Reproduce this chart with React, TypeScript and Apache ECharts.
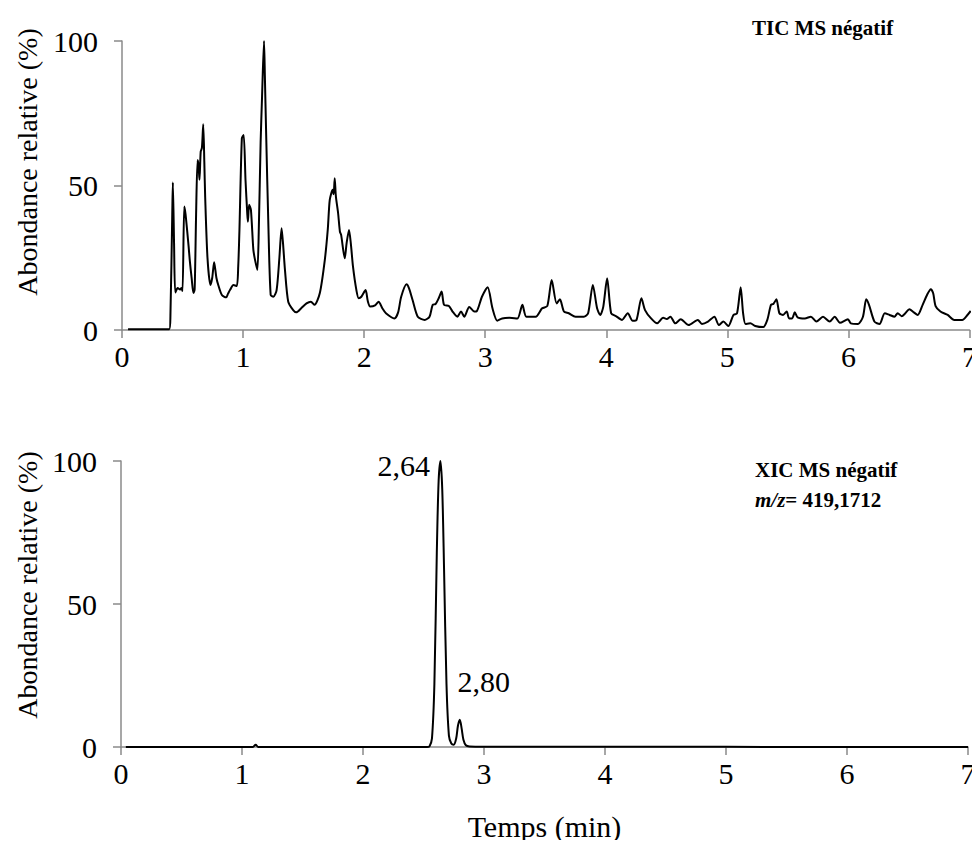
import React, { useEffect, useRef } from "react";
import * as echarts from "echarts";

// TIC MS négatif (time in min, relative abundance %)
const ticTime = [
  0.05, 0.39, 0.40, 0.415, 0.42, 0.43, 0.44, 0.46, 0.48, 0.49, 0.50, 0.514, 0.525, 0.55, 0.56, 0.575, 0.59, 0.60,
  0.612, 0.624, 0.632, 0.64, 0.65, 0.66, 0.671, 0.68, 0.687, 0.706, 0.73, 0.745, 0.761, 0.78, 0.797, 0.825, 0.86,
  0.875, 0.893, 0.92, 0.948, 0.96, 0.97, 0.99, 1.005, 1.02, 1.035, 1.04, 1.05, 1.065, 1.085, 1.10, 1.118, 1.13,
  1.145, 1.157, 1.173, 1.18, 1.19, 1.21, 1.228, 1.25, 1.277, 1.30, 1.318, 1.33, 1.346, 1.373, 1.414, 1.44, 1.48,
  1.524, 1.56, 1.59, 1.634, 1.675, 1.70, 1.716, 1.74, 1.748, 1.757, 1.765, 1.77, 1.785, 1.80, 1.81, 1.84, 1.855,
  1.875, 1.89, 1.908, 1.936, 1.955, 1.977, 2.012, 2.03, 2.05, 2.09, 2.12, 2.15, 2.18, 2.25, 2.28, 2.306, 2.35,
  2.37, 2.40, 2.443, 2.50, 2.54, 2.566, 2.59, 2.616, 2.64, 2.66, 2.70, 2.73, 2.77, 2.80, 2.827, 2.868, 2.91, 2.93,
  2.973, 3.02, 3.06, 3.10, 3.14, 3.20, 3.266, 3.307, 3.34, 3.417, 3.47, 3.513, 3.549, 3.59, 3.617, 3.65, 3.69,
  3.746, 3.815, 3.85, 3.889, 3.924, 3.95, 3.975, 4.007, 4.04, 4.08, 4.13, 4.177, 4.218, 4.25, 4.29, 4.32, 4.37,
  4.42, 4.47, 4.50, 4.53, 4.57, 4.615, 4.68, 4.756, 4.79, 4.84, 4.893, 4.93, 4.967, 5.008, 5.05, 5.08, 5.11, 5.13,
  5.15, 5.19, 5.23, 5.296, 5.33, 5.36, 5.38, 5.405, 5.43, 5.46, 5.49, 5.51, 5.535, 5.557, 5.58, 5.64, 5.69, 5.735,
  5.79, 5.845, 5.886, 5.93, 5.996, 6.02, 6.08, 6.12, 6.147, 6.17, 6.215, 6.257, 6.30, 6.34, 6.38, 6.407, 6.44,
  6.47, 6.503, 6.54, 6.572, 6.613, 6.65, 6.68, 6.70, 6.72, 6.76, 6.82, 6.874, 6.94, 6.983, 7.01,
];
const ticAbundance = [
  0.3, 0.3, 5, 40, 51, 30, 13, 14.5, 14, 14.5, 13.5, 42.7, 40, 29, 24, 18, 12.8, 14,
  40, 58.8, 57, 52, 61.7, 63, 71.2, 58, 46, 25, 15.6, 18, 23.4, 18, 15.3, 12.1, 11.3,
  12.5, 13.9, 15.6, 15.2, 22, 34.6, 66.3, 67.5, 52, 40, 37.5, 43.3, 41.5, 27.7, 24, 20.8, 35,
  65, 81, 100, 88, 69, 34.6, 12.1, 11.5, 13.8, 25, 35.2, 30, 20.8, 9.8, 6.9, 6.1, 7.5,
  9.2, 9.8, 8.7, 12.8, 24.2, 35, 45, 48.5, 47, 52.5, 47, 45, 40.4, 34, 32.9, 24.8, 30,
  34.6, 30, 21.9, 13.8, 11, 11.5, 13.8, 10, 8.1, 8.5, 9.8, 7.5, 5.8, 4, 6, 11.5, 15.8,
  14.5, 10.4, 4.6, 3.5, 4.6, 8.7, 9, 11, 13.3, 8.7, 8.3, 6.4, 4.6, 6.4, 4.6, 8, 6.4, 6.5,
  11.5, 14.8, 7.5, 3.2, 4, 4.2, 4, 8.7, 4.6, 4.6, 7.5, 8.3, 17.3, 9.2, 10.6, 6.4, 5.8,
  4.6, 4.6, 5.8, 15.6, 7.5, 5.2, 8, 17.9, 5.8, 4.8, 3.5, 5.8, 3.2, 3.5, 11, 6.9, 4,
  2.3, 4.2, 3.8, 4.6, 2.3, 3.7, 1.7, 3.5, 2.1, 2.9, 4.6, 1.7, 2.9, 1.4, 5.2, 5.8, 14.8, 5.8,
  2.1, 2.3, 1.4, 1.0, 3.5, 8.7, 9, 10.6, 5.8, 5.2, 6.4, 4, 4, 6.1, 4.4, 4, 4.6, 2.9,
  4.6, 2.9, 4.6, 2.5, 3.7, 2.3, 2.1, 4.6, 10.6, 8.7, 2.9, 2.1, 5.8, 5.2, 4.6, 5.8, 4.8,
  5.8, 7.2, 6.1, 5.2, 8.7, 12.2, 14.1, 12.7, 8.3, 6.4, 5.2, 3.5, 3.5, 5.2, 6.6,
];

// XIC MS négatif m/z = 419,1712
const xicTime = [
  0.04, 1.09, 1.113, 1.135, 2.53, 2.55, 2.57, 2.59, 2.61, 2.625, 2.64, 2.655, 2.67, 2.69, 2.71, 2.73, 2.75,
  2.77, 2.785, 2.80, 2.815, 2.83, 2.85, 2.88, 3.0, 4.0, 5.0, 6.0, 7.0,
];
const xicAbundance = [
  0, 0, 0.8, 0, 0, 0.3, 3, 22, 68, 93, 100, 90, 62, 22, 4, 1.2, 0.8,
  3, 7.5, 9.5, 6.5, 2.5, 0.6, 0.2, 0.1, 0.1, 0.05, 0, 0,
];

const peakLabels = [
  { t: 2.64, v: 100, text: "2,64" },
  { t: 2.8, v: 9.5, text: "2,80" },
];

const xTicks = ["0", "1", "2", "3", "4", "5", "6", "7"];
const yTicks = [0, 50, 100];

const SERIF = "Liberation Serif";
const AXIS_GRAY = "#8a8a8a";
const BIG = 30;

export default function App() {
  const ref = useRef<HTMLDivElement>(null);

  useEffect(() => {
    if (!ref.current) return;
    const chart = echarts.init(ref.current, undefined, { renderer: "svg" });

    const zip = (a: number[], b: number[]) => a.map((t, i) => [t, b[i]]);

    const makeX = (gridIndex: number, withName: boolean) => ({
      type: "value",
      gridIndex,
      min: 0,
      max: xTicks.length - 1,
      interval: 1,
      splitLine: { show: false },
      axisLine: { show: true, onZero: false, lineStyle: { color: AXIS_GRAY, width: 1.5 } },
      axisTick: { show: true, length: 8, lineStyle: { color: AXIS_GRAY, width: 1.5 } },
      axisLabel: {
        color: "#000",
        fontFamily: SERIF,
        fontSize: BIG,
        margin: 11,
        formatter: (v: number) => xTicks[Math.round(v)] ?? "",
      },
      name: withName ? "Temps (min)" : "",
      nameLocation: "middle",
      nameGap: 64,
      nameTextStyle: { color: "#000", fontFamily: SERIF, fontSize: BIG },
    });

    const makeY = (gridIndex: number) => ({
      type: "value",
      gridIndex,
      min: yTicks[0],
      max: yTicks[yTicks.length - 1],
      interval: 50,
      splitLine: { show: false },
      axisLine: { show: true, lineStyle: { color: AXIS_GRAY, width: 1.5 } },
      axisTick: { show: true, length: 8, lineStyle: { color: AXIS_GRAY, width: 1.5 } },
      axisLabel: { color: "#000", fontFamily: SERIF, fontSize: BIG, margin: 24 },
    });

    const yTitle = (y: number) => ({
      type: "text",
      x: 27,
      y,
      rotation: Math.PI / 2,
      style: {
        text: "Abondance relative (%)",
        fontFamily: SERIF,
        fontSize: 28,
        fill: "#000",
        textAlign: "center",
        textVerticalAlign: "middle",
      },
    });

    chart.setOption({
      animation: false,
      backgroundColor: "#fff",
      grid: [
        { left: 122, top: 41, width: 850, height: 289 },
        { left: 121, top: 461, width: 847, height: 286 },
      ],
      xAxis: [makeX(0, false), makeX(1, true)],
      yAxis: [makeY(0), makeY(1)],
      series: [
        {
          type: "line",
          xAxisIndex: 0,
          yAxisIndex: 0,
          data: zip(ticTime, ticAbundance),
          showSymbol: false,
          symbol: "none",
          smooth: 0.25,
          lineStyle: { color: "#000", width: 2 },
        },
        {
          type: "line",
          xAxisIndex: 1,
          yAxisIndex: 1,
          data: zip(xicTime, xicAbundance),
          showSymbol: false,
          symbol: "none",
          smooth: 0.3,
          lineStyle: { color: "#000", width: 2 },
          markPoint: {
            symbol: "circle",
            symbolSize: 1,
            itemStyle: { color: "rgba(0,0,0,0)" },
            label: { show: true, color: "#000", fontFamily: SERIF, fontSize: BIG },
            data: [
              {
                coord: [peakLabels[0].t, peakLabels[0].v],
                label: { formatter: peakLabels[0].text, position: "left", distance: 10, offset: [0, 4] },
              },
              {
                coord: [peakLabels[1].t, peakLabels[1].v],
                label: { formatter: peakLabels[1].text, position: "top", distance: 5, offset: [24, -18] },
              },
            ],
          },
        },
      ],
      graphic: [
        yTitle(162),
        yTitle(585),
        {
          type: "text",
          x: 752,
          y: 28,
          style: {
            text: "TIC MS négatif",
            fontFamily: SERIF,
            fontWeight: "bold",
            fontSize: 21,
            fill: "#000",
            textAlign: "left",
            textVerticalAlign: "middle",
          },
        },
        {
          type: "text",
          x: 755,
          y: 470,
          style: {
            text: "XIC MS négatif",
            fontFamily: SERIF,
            fontWeight: "bold",
            fontSize: 21,
            fill: "#000",
            textAlign: "left",
            textVerticalAlign: "middle",
          },
        },
        {
          type: "text",
          x: 755,
          y: 500,
          style: {
            text: "{i|m/z}{b|= 419,1712}",
            textAlign: "left",
            textVerticalAlign: "middle",
            rich: {
              i: { fontFamily: SERIF, fontWeight: "bold", fontStyle: "italic", fontSize: 21, fill: "#000" },
              b: { fontFamily: SERIF, fontWeight: "bold", fontSize: 21, fill: "#000" },
            },
          },
        },
      ],
    });

    return () => chart.dispose();
  }, []);

  return <div ref={ref} style={{ width: 980, height: 848, margin: -8 }} />;
}
